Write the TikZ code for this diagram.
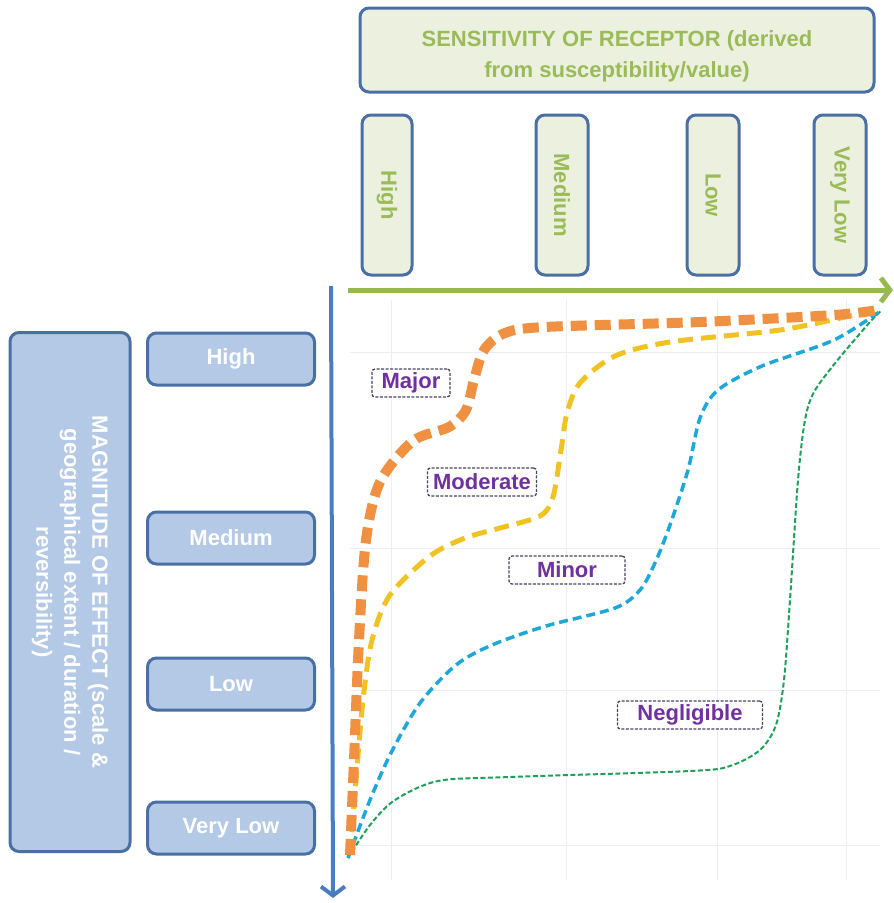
\documentclass[tikz,border=0pt]{standalone}
\usepackage{fontspec}
\setmainfont{Liberation Sans}
\usepackage{tikz}
\usetikzlibrary{positioning}
\usetikzlibrary{arrows.meta}

\definecolor{edgeblue}{RGB}{74,111,165}
\definecolor{sensfill}{RGB}{235,241,222}
\definecolor{senstext}{RGB}{155,187,89}
\definecolor{magfill}{RGB}{180,201,230}
\definecolor{axisblue}{RGB}{74,124,192}
\definecolor{axisgreen}{RGB}{150,185,80}
\definecolor{majorcol}{RGB}{240,145,65}
\definecolor{modcol}{RGB}{240,195,35}
\definecolor{minorcol}{RGB}{30,168,218}
\definecolor{negcol}{RGB}{30,160,90}
\definecolor{labcol}{RGB}{112,48,160}
\definecolor{labedge}{RGB}{70,70,95}
\definecolor{gridcol}{RGB}{238,238,238}

\begin{document}
\begin{tikzpicture}[
  x=1pt, y=-1pt,
  sensbox/.style={draw=edgeblue,line width=3pt,rounded corners=9pt,fill=sensfill,
    text=senstext,font=\bfseries\fontsize{22}{31}\selectfont,align=center},
  magbox/.style={draw=edgeblue,line width=3pt,rounded corners=9pt,fill=magfill,
    text=white,font=\bfseries\fontsize{22}{28}\selectfont,align=center},
  curvelabel/.style={draw=labedge,line width=1.3pt,dash pattern=on 3pt off 1.5pt,
    rounded corners=3pt,fill=white,text=labcol,font=\bfseries\fontsize{22}{26}\selectfont,
    minimum height=28pt,inner sep=1pt}
]
\useasboundingbox (0,0) rectangle (894,903);

% faint grid
\foreach \gx in {391,566,717,846}
  \draw[gridcol,line width=1pt] (\gx,300) -- (\gx,880);
\foreach \gy in {352,548,690,845}
  \draw[gridcol,line width=1pt] (350,\gy) -- (880,\gy);

% sensitivity of receptor
\node[sensbox,minimum width=514pt,minimum height=84pt] (hdr) at (617,50)
  {\rule{0pt}{28pt}SENSITIVITY OF RECEPTOR (derived\\from susceptibility/value)};
\node[sensbox,rotate=-90,minimum width=160pt,minimum height=50pt] (sh) at (387,195) {High};
\node[sensbox,rotate=-90,minimum width=160pt,minimum height=52pt] (sm) at (562,195) {Medium};
\node[sensbox,rotate=-90,minimum width=160pt,minimum height=52pt] (sl) at (713,195) {Low};
\node[sensbox,rotate=-90,minimum width=160pt,minimum height=52pt] (svl) at (840,195) {Very Low};

% magnitude of effect
\node[magbox,rotate=-90,minimum width=519pt,minimum height=120pt] (mag) at (70,592)
  {MAGNITUDE OF EFFECT (scale \&\\geographical extent / duration /\\reversibility)};
\node[magbox,minimum width=167pt,minimum height=52pt] (mh) at (231,359) {High};
\node[magbox,minimum width=167pt,minimum height=52pt] (mm) at (231,538) {Medium};
\node[magbox,minimum width=167pt,minimum height=52pt] (ml) at (231,684) {Low};
\node[magbox,minimum width=167pt,minimum height=52pt] (mvl) at (231,828) {Very Low};

% axes
\coordinate (xs) at (348,290);
\coordinate (xe) at (893,290);
\coordinate (ys) at (331,286);
\coordinate (ye) at (333,898);
\path (xs) edge[axisgreen,line width=5pt,-{Straight Barb[length=9pt,width=24pt]}] (xe)
      (ys) edge[axisblue,line width=4pt,-{Straight Barb[length=9pt,width=24pt]}] (ye);

% curves
\draw[negcol,line width=2pt,dash pattern=on 5pt off 2.5pt]
  plot[smooth,tension=0.5] coordinates {(348,858) (370,825) (395,800) (438,781) (510,777)
  (690,771) (730,766) (760,750) (776,725) (784,680) (790,600) (798,480) (805,420)
  (814,392) (836,362) (870,322) (882,310)};
\draw[minorcol,line width=3.5pt,dash pattern=on 9pt off 5pt]
  plot[smooth,tension=0.5] coordinates {(348,858) (370,800) (391,753) (420,703) (456,665)
  (492,645) (546,626) (615,608) (640,590) (655,563) (670,525) (688,470) (700,418)
  (718,390) (762,366) (834,340) (882,310)};
\draw[modcol,line width=5pt,dash pattern=on 15pt off 8pt]
  plot[smooth,tension=0.5] coordinates {(350,855) (356,780) (363,700) (372,640) (390,595)
  (430,556) (465,538) (500,528) (540,516) (553,497) (561,450) (567,413) (580,383)
  (615,356) (670,342) (780,330) (850,316) (880,310)};
\draw[majorcol,line width=10pt,dash pattern=on 16pt off 8pt]
  plot[smooth,tension=0.5] coordinates {(350,855) (354,760) (359,640) (366,540) (380,482)
  (413,441) (449,427) (466,410) (474,380) (484,350) (505,333) (545,327) (700,322)
  (834,315) (878,310)};

% curve labels
\node[curvelabel,minimum width=78pt] (major) at (411,383) {Major};
\node[curvelabel,minimum width=109pt] (moderate) at (482,482) {Moderate};
\node[curvelabel,minimum width=116pt] (minor) at (567,570) {Minor};
\node[curvelabel,minimum width=145pt] (negligible) at (690,715) {Negligible};

\end{tikzpicture}
\end{document}
